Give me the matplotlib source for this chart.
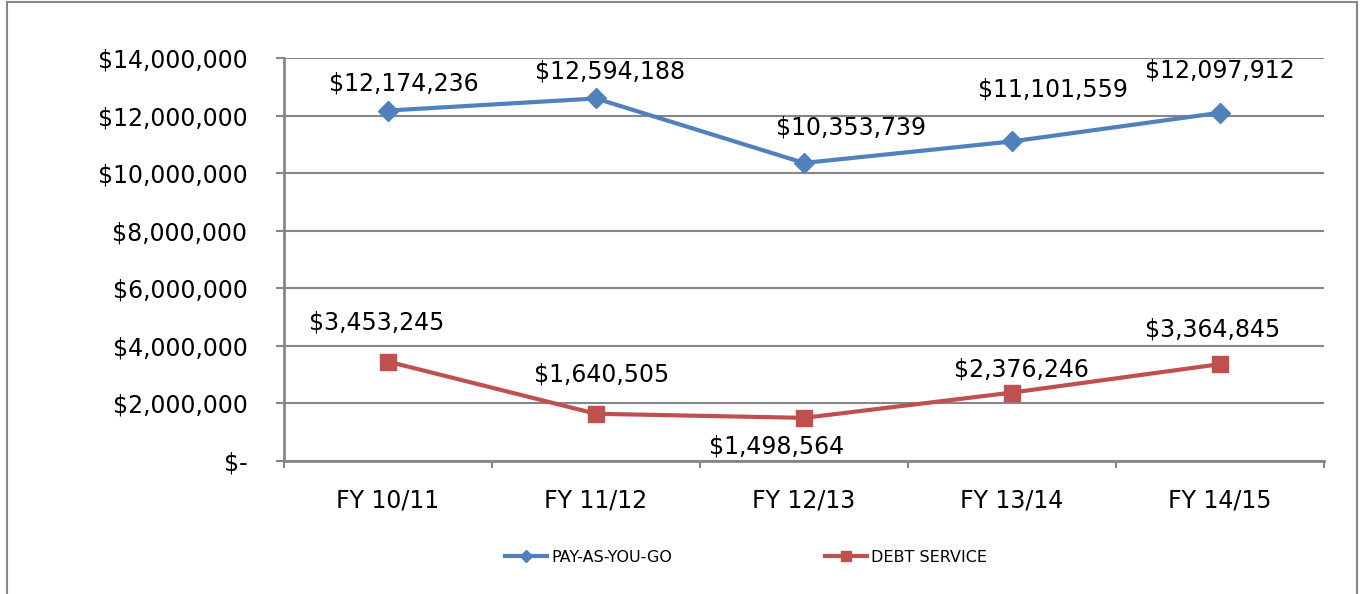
import matplotlib
matplotlib.use("Agg")
import matplotlib.pyplot as plt
from matplotlib.patches import Rectangle
from matplotlib.ticker import FuncFormatter

categories = ["FY 10/11", "FY 11/12", "FY 12/13", "FY 13/14", "FY 14/15"]
pay_as_you_go = [12174236, 12594188, 10353739, 11101559, 12097912]
debt_service = [3453245, 1640505, 1498564, 2376246, 3364845]
series_names = ["PAY-AS-YOU-GO", "DEBT SERVICE"]

# label offsets in pixels (dx, dy) relative to each point
paygo_offsets = [(16, 27), (14, 27), (47, 35), (41, 52), (0, 42)]
debt_offsets = [(-11, 39), (6, 39), (-27, -29), (9, 23), (-7, 35)]

plt.rcParams['font.family'] = ['DejaVu Sans']
fig = plt.figure(figsize=(13.61, 5.94), dpi=100)
ax = fig.add_axes([284/1361, 1-461/594, (1324-284)/1361, (461-58)/594])

blue = "#4F81BD"
red = "#C0504D"
grid_c = "#868686"
fs = 17

x = list(range(len(categories)))
ax.plot(x, pay_as_you_go, color=blue, lw=3, marker="D", ms=10, label=series_names[0], zorder=3)
ax.plot(x, debt_service, color=red, lw=3, marker="s", ms=11, label=series_names[1], zorder=3)

ax.set_xlim(-0.5, len(categories) - 0.5)
ax.set_ylim(0, 14000000)
ax.set_yticks(range(0, 14000001, 2000000))

def fmt(v, pos):
    if v == 0:
        return "$-"
    return "${:,.0f}".format(v)
ax.yaxis.set_major_formatter(FuncFormatter(fmt))
ax.set_xticks(x)
ax.set_xticklabels(categories)
ax.set_xticks([i - 0.5 for i in range(len(categories) + 1)], minor=True)
ax.tick_params(axis="x", which="major", length=0, pad=20, labelsize=fs)
ax.tick_params(axis="x", which="minor", length=5, width=1.5, color=grid_c, direction="out")
ax.tick_params(axis="y", length=5.8, width=1.5, color=grid_c, pad=20.5, labelsize=fs)

ax.grid(axis="y", color=grid_c, lw=1.5)
ax.set_axisbelow(True)
for s in ["top", "right"]:
    ax.spines[s].set_visible(False)
for s in ["left", "bottom"]:
    ax.spines[s].set_color(grid_c)
    ax.spines[s].set_linewidth(2)

for i, v in enumerate(pay_as_you_go):
    dx, dy = paygo_offsets[i]
    ax.annotate("${:,.0f}".format(v), (i, v), xytext=(dx * 0.72, dy * 0.72),
                textcoords="offset points", ha="center", va="center", fontsize=fs)
for i, v in enumerate(debt_service):
    dx, dy = debt_offsets[i]
    ax.annotate("${:,.0f}".format(v), (i, v), xytext=(dx * 0.72, dy * 0.72),
                textcoords="offset points", ha="center", va="center", fontsize=fs)

leg = fig.legend(loc="center", bbox_to_anchor=(746/1361, 1-557/594), ncol=2, frameon=False,
                 fontsize=11.5, columnspacing=9.6, handlelength=2.6, handletextpad=0.25,
                 markerscale=0.6)

fig.patches.append(Rectangle((7/1361, -0.05), 1350/1361, 1.05 - 2/594, transform=fig.transFigure,
                             fill=False, edgecolor="#878787", lw=1.5))

fig.savefig("out.png", dpi=100)
